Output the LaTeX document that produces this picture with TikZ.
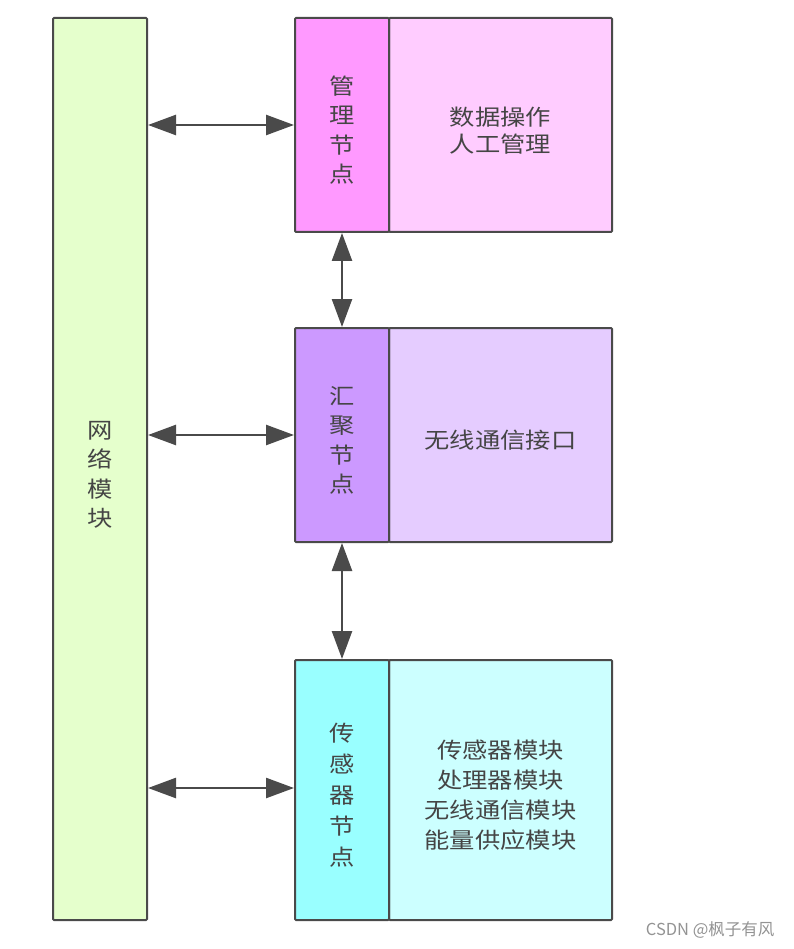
\documentclass[tikz,border=0pt]{standalone}
\usepackage{fontspec}
\setmainfont[FakeStretch=1.15]{Noto Sans CJK SC}
\newfontfamily\wmfont{Noto Sans CJK SC}
\usetikzlibrary{arrows.meta}
\newcommand\tstrut{\rule{0pt}{29pt}}
\definecolor{edge}{HTML}{4A4A4A}
\definecolor{txt}{HTML}{454545}
\definecolor{cgreen}{HTML}{E5FFCC}
\definecolor{cmag}{HTML}{FF99FF}
\definecolor{cpink}{HTML}{FFCCFF}
\definecolor{cpur}{HTML}{CC99FF}
\definecolor{clpur}{HTML}{E5CCFF}
\definecolor{ccyan}{HTML}{99FFFF}
\definecolor{clcyan}{HTML}{CCFFFF}
\tikzset{
  box/.style={draw=edge, line width=2pt, rounded corners=1pt, inner sep=0pt, outer sep=0pt,
    text=txt, font=\fontsize{22}{29.5}\selectfont, align=center},
  link/.style={draw=edge, line width=2.5pt, {Triangle[length=28pt,width=20pt]}-{Triangle[length=28pt,width=20pt]}, shorten <=1pt, shorten >=1pt}
}
\begin{document}
\begin{tikzpicture}[x=1pt,y=-1pt]
\useasboundingbox (0,0) rectangle (793,949);
% left network module
\node[box, fill=cgreen, minimum width=94pt, minimum height=902pt] (net) at (100,469)
  {\tstrut 网\\络\\模\\块};
% management node
\node[box, fill=cpink, minimum width=223pt, minimum height=214pt, font=\fontsize{22}{27}\selectfont] (mgmtR) at (500.5,125)
  {\tstrut 数据操作\\人工管理};
\node[box, fill=cmag, minimum width=94pt, minimum height=214pt] (mgmt) at (342,125)
  {\tstrut 管\\理\\节\\点};
% sink node
\node[box, fill=clpur, minimum width=223pt, minimum height=214pt] (sinkR) at (500.5,435)
  {\tstrut 无线通信接口};
\node[box, fill=cpur, minimum width=94pt, minimum height=214pt] (sink) at (342,435)
  {\tstrut 汇\\聚\\节\\点};
% sensor node
\node[box, fill=clcyan, minimum width=223pt, minimum height=260pt, font=\fontsize{22}{30}\selectfont] (sensR) at (500.5,790)
  {\tstrut 传感器模块\\处理器模块\\无线通信模块\\能量供应模块};
\node[box, fill=ccyan, minimum width=94pt, minimum height=260pt, font=\fontsize{22}{31}\selectfont] (sens) at (342,790)
  {\tstrut 传\\感\\器\\节\\点};
% connectors
\draw[link] (mgmt.west -| net.east) -- (mgmt.west);
\draw[link] (sink.west -| net.east) -- (sink.west);
\draw[link] ([yshift=2pt]sens.west -| net.east) -- ([yshift=2pt]sens.west);
\draw[link] (mgmt.south) -- (sink.north);
\draw[link] (sink.south) -- (sens.north);
% watermark
\node[text=gray!85, font=\wmfont\fontsize{16.5}{18}\selectfont, anchor=east] (wm) at (778,930) {CSDN @枫子有风};
\end{tikzpicture}
\end{document}
